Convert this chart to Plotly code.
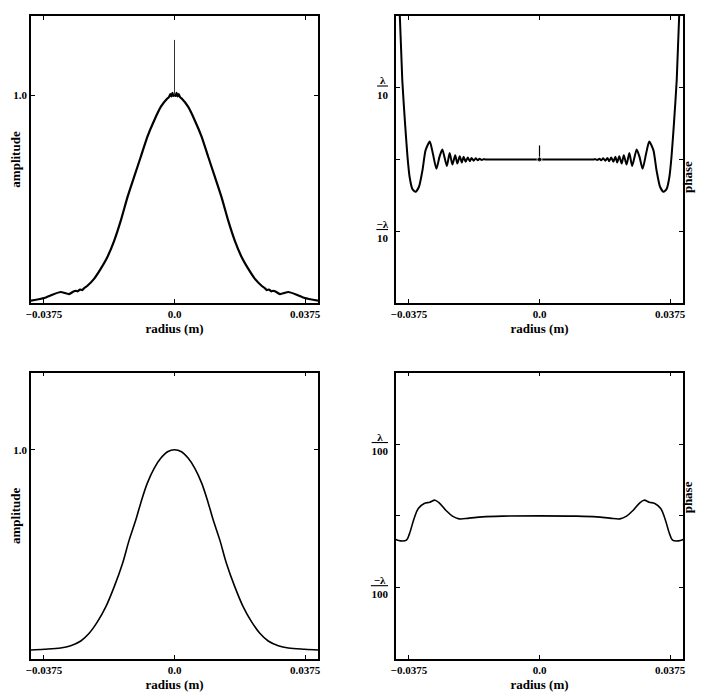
import plotly.graph_objects as go

# ---- data (radius in m, phase in units of lambda) ----
amp_top_r = [-0.0413, -0.0374, -0.0351, -0.0327, -0.0303, -0.0290, -0.0284, -0.0278, -0.0271, -0.0265,
             -0.0259, -0.0250, -0.0231, -0.0212, -0.0193, -0.0173, -0.0154, -0.0135, -0.0116, -0.0097,
             -0.0078, -0.0058, -0.0039, -0.0020, -0.0016, -0.0012, -0.0009, -0.0006, -0.0003, 0.0,
             0.0003, 0.0006, 0.0009, 0.0012, 0.0016, 0.0020, 0.0039, 0.0058, 0.0078, 0.0097,
             0.0116, 0.0135, 0.0154, 0.0173, 0.0193, 0.0212, 0.0231, 0.0250, 0.0259, 0.0265,
             0.0271, 0.0278, 0.0284, 0.0290, 0.0303, 0.0327, 0.0351, 0.0374, 0.0413]
amp_top = [0.011, 0.024, 0.040, 0.053, 0.043, 0.055, 0.059, 0.056, 0.065, 0.062,
           0.072, 0.083, 0.116, 0.164, 0.220, 0.300, 0.397, 0.509, 0.606, 0.702,
           0.799, 0.879, 0.944, 0.984, 0.990, 1.004, 0.993, 1.010, 0.996, 1.000,
           0.996, 1.010, 0.993, 1.004, 0.990, 0.984, 0.944, 0.879, 0.799, 0.702,
           0.606, 0.509, 0.397, 0.300, 0.220, 0.164, 0.116, 0.083, 0.072, 0.062,
           0.065, 0.056, 0.059, 0.055, 0.043, 0.053, 0.040, 0.024, 0.011]
amp_spike_r = [0.0, 0.0]
amp_spike = [1.0, 1.265]

phase_top_r = [-0.0414, -0.0401, -0.0394, -0.0386, -0.0379, -0.0373, -0.0365, -0.0356, -0.0346, -0.0336,
               -0.0327, -0.0315, -0.0306, -0.0296, -0.0287, -0.0279, -0.0266, -0.0258, -0.0250, -0.0242,
               -0.0236, -0.0229, -0.0223, -0.0218, -0.0212, -0.0206, -0.0200, -0.0195, -0.0189, -0.0183,
               -0.0177, -0.0172, -0.0166, -0.0161, -0.0155, -0.0080, 0.0,
               0.0080, 0.0155, 0.0161, 0.0166, 0.0172, 0.0177, 0.0183, 0.0189, 0.0195, 0.0200,
               0.0206, 0.0212, 0.0218, 0.0223, 0.0229, 0.0236, 0.0242, 0.0250, 0.0258, 0.0266,
               0.0279, 0.0287, 0.0296, 0.0306, 0.0315, 0.0327, 0.0336, 0.0346, 0.0356, 0.0365,
               0.0373, 0.0379, 0.0386, 0.0394, 0.0401, 0.0414]
phase_top = [0.300, 0.1996, 0.111, 0.050, 0.004, -0.024, -0.041, -0.045, -0.038, -0.015,
             0.013, 0.025, 0.008, -0.013, 0.004, 0.014, -0.009, 0.009, -0.007, 0.006,
             -0.0056, 0.0046, -0.0042, 0.0038, -0.0032, 0.0028, -0.0024, 0.0022, -0.0016, 0.0016,
             -0.0010, 0.0010, -0.0006, 0.0004, 0.0, 0.0, 0.0,
             0.0, 0.0, 0.0004, -0.0006, 0.0010, -0.0010, 0.0016, -0.0016, 0.0022, -0.0024,
             0.0028, -0.0032, 0.0038, -0.0042, 0.0046, -0.0056, 0.006, -0.007, 0.009, -0.009,
             0.014, 0.004, -0.013, 0.008, 0.025, 0.013, -0.015, -0.038, -0.045, -0.041,
             -0.024, 0.004, 0.050, 0.111, 0.1996, 0.300]
phase_spike_r = [0.0, 0.0]
phase_spike = [0.0, 0.0196]

amp_bot_r = [-0.0413, -0.0374, -0.0327, -0.0298, -0.0269, -0.0245, -0.0221, -0.0197, -0.0173, -0.0149,
             -0.0130, -0.0111, -0.0097, -0.0078, -0.0058, -0.0039, -0.0020, 0.0,
             0.0020, 0.0039, 0.0058, 0.0078, 0.0097, 0.0111, 0.0130, 0.0149, 0.0173, 0.0197,
             0.0221, 0.0245, 0.0269, 0.0298, 0.0327, 0.0374, 0.0413]
amp_bot = [0.0, 0.0035, 0.010, 0.0215, 0.045, 0.0835, 0.1415, 0.2165, 0.3165, 0.4335,
           0.550, 0.650, 0.7335, 0.8335, 0.9085, 0.9585, 0.990, 1.0,
           0.990, 0.9585, 0.9085, 0.8335, 0.7335, 0.650, 0.550, 0.4335, 0.3165, 0.2165,
           0.1415, 0.0835, 0.045, 0.0215, 0.010, 0.0035, 0.0]

phase_bot_r = [-0.0413, -0.0399, -0.0382, -0.0373, -0.0360, -0.0348, -0.0331, -0.0315, -0.0300, -0.0288,
               -0.0269, -0.0250, -0.0231, -0.0202, -0.0164, -0.0106, 0.0,
               0.0106, 0.0164, 0.0202, 0.0231, 0.0250, 0.0269, 0.0288, 0.0300, 0.0315, 0.0331,
               0.0348, 0.0360, 0.0373, 0.0382, 0.0399, 0.0413]
phase_bot = [-0.0033, -0.0035, -0.0034, -0.00245, -0.00036, 0.00103, 0.00173, 0.00191, 0.00219, 0.00181,
             0.00079, -0.00004, -0.00042, -0.00032, -0.00014, -0.00004, 0.0,
             -0.00004, -0.00014, -0.00032, -0.00042, -0.00004, 0.00079, 0.00181, 0.00219, 0.00191, 0.00173,
             0.00103, -0.00036, -0.00245, -0.0034, -0.0035, -0.0033]

radius_ticks = [-0.0375, 0.0, 0.0375]
radius_labels = ["\u22120.0375", "0.0", "0.0375"]
amp_ticks = [1.0]
amp_labels = ["1.0"]
phase10_ticks = [-0.1, 0.0, 0.1]
phase10_labels = ["<u>\u2212\u03bb</u><br>10", "", "<u>&nbsp;\u03bb&nbsp;</u><br>10"]
phase100_ticks = [-0.01, 0.0, 0.01]
phase100_labels = ["<u>&nbsp;\u2212\u03bb&nbsp;</u><br>100", "", "<u>&nbsp;&nbsp;\u03bb&nbsp;&nbsp;</u><br>100"]

# the page body adds an 8px margin, so the figure is drawn 8px smaller and
# all pixel positions below are taken relative to that offset
OFF = 8
W, H = 706 - OFF, 696 - OFF
FONT = "Liberation Serif, Times New Roman, serif"

fig = go.Figure()
fig.add_trace(go.Scatter(x=amp_top_r, y=amp_top, mode="lines",
                         line=dict(color="black", width=2.2, shape="spline", smoothing=0.5),
                         xaxis="x", yaxis="y"))
fig.add_trace(go.Scatter(x=amp_spike_r, y=amp_spike, mode="lines", line=dict(color="#333", width=1),
                         xaxis="x", yaxis="y"))
fig.add_trace(go.Scatter(x=phase_top_r, y=phase_top, mode="lines",
                         line=dict(color="black", width=2, shape="spline", smoothing=0.6),
                         xaxis="x2", yaxis="y2"))
fig.add_trace(go.Scatter(x=phase_spike_r, y=phase_spike, mode="lines+markers",
                         line=dict(color="black", width=1.2),
                         marker=dict(size=[5, 0], color="black"),
                         xaxis="x2", yaxis="y2"))
fig.add_trace(go.Scatter(x=amp_bot_r, y=amp_bot, mode="lines",
                         line=dict(color="black", width=1.6, shape="spline"),
                         xaxis="x3", yaxis="y3"))
fig.add_trace(go.Scatter(x=phase_bot_r, y=phase_bot, mode="lines",
                         line=dict(color="black", width=1.6, shape="spline"),
                         xaxis="x4", yaxis="y4"))


def xdom(a, b):
    return [(a - OFF) / W, (b - OFF) / W]


def ydom(top, bottom):
    return [1 - (bottom - OFF) / H, 1 - (top - OFF) / H]


xl, xr = xdom(31, 318), xdom(396, 683)
yt, yb = ydom(16, 303), ydom(372.7, 659)

tfont = dict(family=FONT, size=11, color="black", weight="bold")
common = dict(showline=True, linecolor="black", linewidth=1.5, mirror="allticks",
              ticks="inside", ticklen=4, tickwidth=1.2, tickcolor="black",
              showgrid=False, zeroline=False, automargin=False, tickfont=tfont)
xcommon = dict(common, tickvals=radius_ticks, ticktext=radius_labels, range=[-0.0412, 0.0412],
               title=dict(text="radius (m)", standoff=5,
                          font=dict(family=FONT, size=13, color="black", weight="bold")))


def ytitle(t):
    return dict(text=t, standoff=0, font=dict(family=FONT, size=13, color="black", weight="bold"))


fig.update_layout(
    width=W, height=H, margin=dict(l=0, r=0, t=0, b=0),
    paper_bgcolor="white", plot_bgcolor="white", showlegend=False,
    font=dict(family=FONT, color="black"),
    xaxis=dict(xcommon, domain=xl, anchor="y"),
    yaxis=dict(common, domain=yt, anchor="x", range=[0, 1.38], tickvals=amp_ticks, ticktext=amp_labels,
               title=ytitle("amplitude")),
    xaxis2=dict(xcommon, domain=xr, anchor="y2"),
    yaxis2=dict(common, domain=yt, anchor="x2", range=[-0.2, 0.2], tickvals=phase10_ticks,
                ticktext=phase10_labels, ticklabelstandoff=4),
    xaxis3=dict(xcommon, domain=xl, anchor="y3"),
    yaxis3=dict(common, domain=yb, anchor="x3", range=[-0.045, 1.385], tickvals=amp_ticks,
                ticktext=amp_labels, title=ytitle("amplitude")),
    xaxis4=dict(xcommon, domain=xr, anchor="y4"),
    yaxis4=dict(common, domain=yb, anchor="x4", range=[-0.02, 0.02], tickvals=phase100_ticks,
                ticktext=phase100_labels, ticklabelstandoff=4),
)

for yc in [(yt[0] + yt[1]) / 2, (yb[0] + yb[1]) / 2]:
    fig.add_annotation(text="<b>phase</b>", textangle=-90, xref="paper", yref="paper",
                       x=(697 - OFF) / W, y=yc, showarrow=False,
                       font=dict(family=FONT, size=13, color="black"))

fig.write_html("out.html")
